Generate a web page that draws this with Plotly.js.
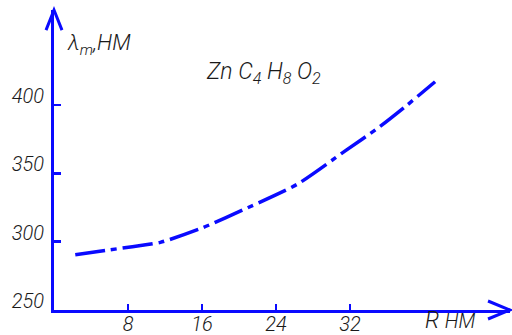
<!DOCTYPE html>
<html>
<head>
<meta charset="utf-8">
<script src="https://cdn.plot.ly/plotly-3.0.1.min.js"></script>
<style>
  html, body { margin: 0; padding: 0; background: #fff; }
  #chart { width: 512px; height: 335px; }
</style>
</head>
<body>
<div id="chart"></div>
<script>
// Particle radius R (nm) and absorption maximum λm (nm)
const radiusNm = [2.3, 6, 11.5, 16, 21, 26.3, 31.6, 35, 38.1, 41.2];
const lambdaNm = [290.4, 294, 299.5, 310, 325, 342, 367, 383, 399.5, 417];

const xTicks = [8, 16, 24, 32];
const yTicks = [250, 300, 350, 400];

const blue = '#0a0aff';
const ink = '#1a1a1a';
const fontFam = 'Roboto, "DejaVu Sans", sans-serif';
const tickFont = { family: fontFam, size: 20, color: ink, style: 'italic', weight: 300 };

const trace = {
  x: radiusNm,
  y: lambdaNm,
  mode: 'lines',
  line: { color: blue, width: 3.5, dash: '30px,6px,6px,6px', shape: 'spline', smoothing: 0.6 },
  hoverinfo: 'skip'
};

const layout = {
  width: 512,
  height: 335,
  margin: { l: 54, r: 2, t: 10, b: 25 },
  paper_bgcolor: '#fff',
  plot_bgcolor: '#fff',
  showlegend: false,
  xaxis: {
    range: [0, 49.3],
    showgrid: false,
    zeroline: false,
    showline: true,
    linecolor: blue,
    linewidth: 3,
    ticks: 'inside',
    ticklen: 6,
    tickwidth: 2.5,
    tickcolor: blue,
    tickvals: xTicks,
    ticktext: xTicks.map(String),
    tickfont: tickFont,
    ticklabelstandoff: -6
  },
  yaxis: {
    range: [250, 469.5],
    showgrid: false,
    zeroline: false,
    showline: true,
    linecolor: blue,
    linewidth: 3,
    ticks: 'inside',
    ticklen: 7,
    tickwidth: 2.5,
    tickcolor: blue,
    tickvals: yTicks,
    ticktext: yTicks.map(String),
    tickfont: tickFont,
    ticklabelshift: -9,
    ticklabelstandoff: 3
  },
  shapes: [
    // arrowhead on the vertical axis
    { type: 'path', xref: 'paper', yref: 'paper',
      path: 'M -0.0175 0.933 L 0 1 L 0.0175 0.933',
      line: { color: blue, width: 3 } },
    // arrowhead on the horizontal axis
    { type: 'path', xref: 'paper', yref: 'paper',
      path: 'M 0.9518 0.03 L 1 0 L 0.9518 -0.03',
      line: { color: blue, width: 3 } }
  ],
  annotations: [
    { text: 'λ<sub>m</sub>,НМ', xref: 'paper', yref: 'paper',
      x: 0.025, y: 0.885, xanchor: 'left', yanchor: 'middle', showarrow: false,
      font: { family: fontFam, size: 22, color: ink, style: 'italic', weight: 300 } },
    { text: 'Zn C<sub>4</sub> H<sub>8</sub> O<sub>2</sub>', xref: 'paper', yref: 'paper',
      x: 0.33, y: 0.79, xanchor: 'left', yanchor: 'middle', showarrow: false,
      font: { family: fontFam, size: 23, color: ink, style: 'italic', weight: 300 } },
    { text: 'R <span style="font-size:20px">НМ</span>', xref: 'paper', yref: 'paper',
      x: 0.81, y: -0.035, xanchor: 'left', yanchor: 'middle', showarrow: false,
      font: { family: fontFam, size: 23, color: ink, style: 'italic', weight: 300 } }
  ]
};

Plotly.newPlot('chart', [trace], layout, { staticPlot: true, displayModeBar: false });
</script>
</body>
</html>
